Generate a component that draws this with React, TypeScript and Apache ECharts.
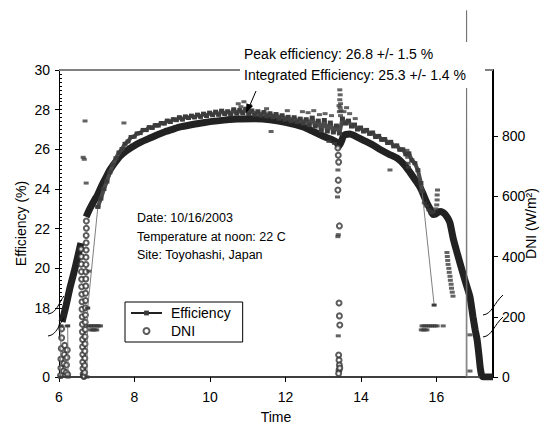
import React, { useEffect, useRef } from 'react';
import * as echarts from 'echarts';

const FONT = "'Liberation Sans', Arial, sans-serif";

const timeTicks = [6, 8, 10, 12, 14, 16];
const effTicks = [0, 18, 20, 22, 24, 26, 28, 30];
const dniTicks = [0, 200, 400, 600, 800];

// Efficiency (%) : thin trace parts (morning, rise, fall)
const effMorning: [number, number][] = [
  [6.04, 0], [6.05, 17.1], [6.23, 17.1], [6.24, 0],
];
const effRise: [number, number][] = [
  [6.74, 0], [6.76, 18.0], [7.03, 23.1],
];
const effFall: [number, number][] = [
  [15.62, 23.9], [15.94, 18.15],
];
// Efficiency (%) : sunset artefact (off-scale reading)
const effDusk: [number, number][] = [
  [16.79, 0], [16.8, 33.0], [16.81, 0], [17.15, 0],
];
// Efficiency (%) : dense daytime readings
const effDay: [number, number][] = [
  [7.03, 23.1], [7.11, 23.52], [7.19, 24.0], [7.27, 24.38], [7.35, 24.85], [7.43, 25.22],
  [7.51, 25.55], [7.59, 25.84], [7.67, 26.02], [7.75, 26.28], [7.83, 26.4], [7.91, 26.62],
  [7.99, 26.64], [8.07, 26.8], [8.15, 26.82], [8.23, 26.98], [8.31, 26.97], [8.39, 27.12],
  [8.47, 27.08], [8.55, 27.22], [8.63, 27.2], [8.71, 27.33], [8.79, 27.3], [8.87, 27.45],
  [8.95, 27.38], [9.03, 27.52], [9.11, 27.47], [9.19, 27.62], [9.27, 27.5], [9.35, 27.66],
  [9.43, 27.58], [9.51, 27.7], [9.59, 27.61], [9.67, 27.75], [9.75, 27.64], [9.83, 27.8],
  [9.91, 27.68], [9.99, 27.85], [10.07, 27.72], [10.15, 27.9], [10.23, 27.74], [10.31, 27.95],
  [10.39, 27.78], [10.47, 27.92], [10.55, 27.76], [10.63, 28.02], [10.71, 27.8], [10.79, 27.98],
  [10.87, 27.82], [10.95, 28.05], [11.03, 27.78], [11.11, 27.96], [11.19, 27.74], [11.27, 27.92],
  [11.35, 27.7], [11.43, 27.88], [11.51, 27.66], [11.59, 27.82], [11.67, 27.62], [11.75, 27.78],
  [11.83, 27.55], [11.91, 27.72], [11.99, 27.5], [12.07, 27.64], [12.15, 27.42], [12.23, 27.62],
  [12.31, 27.38], [12.39, 27.55], [12.47, 27.3], [12.55, 27.52], [12.63, 27.22], [12.71, 27.6],
  [12.79, 27.15], [12.87, 27.45], [12.95, 26.95], [13.03, 27.48], [13.11, 26.9], [13.19, 27.35],
  [13.27, 26.85], [13.35, 27.2], [13.43, 26.8], [13.51, 27.55], [13.59, 27.3], [13.67, 27.45],
  [13.75, 27.15], [13.83, 27.25], [13.91, 27.0], [13.99, 27.1], [14.07, 26.9], [14.15, 26.98],
  [14.23, 26.78], [14.31, 26.85], [14.39, 26.62], [14.47, 26.68], [14.55, 26.48], [14.63, 26.52],
  [14.71, 26.32], [14.79, 26.38], [14.87, 26.15], [14.95, 26.2], [15.03, 25.98], [15.11, 26.0],
  [15.19, 25.75], [15.27, 25.8], [15.35, 25.45], [15.43, 25.3], [15.51, 24.95], [15.59, 24.3],
  [15.62, 23.9],
];
// Efficiency : isolated readings
const effStray: [number, number][] = [
  [6.69, 27.43], [6.64, 25.6], [6.67, 25.5], [6.72, 24.3], [6.79, 19.86], [7.72, 27.33],
  [6.78, 17.1], [6.82, 17.1], [6.86, 17.1], [6.9, 17.1], [6.94, 17.1], [6.98, 17.1], [7.02, 17.1], [7.06, 17.1], [7.1, 17.1],
  [6.84, 16.9], [6.88, 16.9], [6.92, 16.9], [6.96, 16.9], [7.0, 16.9],
  [10.75, 28.3], [10.82, 28.15], [10.9, 28.4], [11.05, 28.2], [11.5, 28.05], [11.62, 26.9], [12.05, 27.95],
  [12.45, 27.9], [12.6, 27.85], [12.75, 27.95], [12.9, 27.75], [13.05, 27.8], [13.15, 26.4], [13.22, 27.7],
  [13.3, 26.3], [13.55, 27.9], [13.62, 28.1], [13.7, 27.8], [13.85, 27.55],
  [13.44, 29.0], [13.45, 28.75], [13.44, 28.5], [13.46, 28.3], [13.45, 28.1], [13.43, 27.9], [13.46, 27.7], [13.47, 27.95], [13.42, 28.2],
  [13.39, 24.96], [13.38, 23.6], [13.39, 21.6], [13.4, 21.7], [13.4, 16.6],
  [14.77, 24.96],
  [15.22, 25.95], [15.24, 25.6], [15.25, 25.3], [15.26, 25.1],
  [15.68, 23.3], [15.74, 23.15], [15.8, 22.95], [15.86, 22.8], [15.92, 22.85], [15.98, 23.0], [16.01, 23.2], [16.02, 23.45], [16.02, 23.7], [16.03, 23.95],
  [15.62, 17.1], [15.67, 17.1], [15.72, 17.1], [15.77, 17.1], [15.82, 17.1], [15.87, 17.1], [15.92, 17.1], [15.97, 17.1], [16.02, 17.1], [16.18, 17.1],
  [15.6, 16.9], [15.65, 16.9], [15.7, 16.9], [15.75, 16.9],
  [16.28, 20.8], [16.29, 20.6], [16.3, 20.4], [16.31, 20.2], [16.33, 20.0], [16.34, 19.8], [16.36, 19.6], [16.37, 19.4], [16.39, 19.2], [16.4, 19.0], [16.42, 18.8], [16.44, 18.6],
  [16.89, 16.65], [16.89, 0.3],
];

// DNI (W/m2): dense one-minute readings
const dniMorning: [number, number][] = [
  [6.08, 183], [6.19, 239], [6.29, 296], [6.4, 349], [6.5, 402], [6.58, 445],
];
const dniDay: [number, number][] = [
  [6.72, 532], [6.8, 555], [6.87, 572], [6.95, 590], [7.01, 602], [7.09, 624], [7.17, 645],
  [7.26, 667], [7.35, 688], [7.48, 712], [7.62, 734], [7.78, 751], [7.96, 766], [8.18, 781],
  [8.41, 794], [8.61, 805], [8.81, 815], [9.01, 823], [9.21, 831], [9.5, 838], [9.82, 845],
  [10.2, 851], [10.72, 857], [11.2, 858], [11.59, 855], [12.0, 846], [12.47, 831], [12.7, 818],
  [12.92, 805], [13.1, 795], [13.26, 787], [13.35, 780], [13.42, 768], [13.48, 782], [13.55, 803],
  [13.71, 807], [13.9, 797], [14.06, 787], [14.3, 772], [14.51, 756], [14.75, 740], [14.96, 727],
  [15.15, 705], [15.3, 680], [15.45, 653], [15.57, 630], [15.67, 602], [15.75, 578], [15.84, 557],
  [15.91, 540], [15.98, 541], [16.05, 548], [16.1, 550], [16.17, 547], [16.23, 541], [16.3, 528],
  [16.36, 512], [16.45, 458], [16.55, 412], [16.7, 346], [16.8, 304], [16.89, 266], [16.97, 200],
  [17.03, 155], [17.08, 123], [17.13, 70], [17.16, 33], [17.2, 5], [17.25, 0], [17.5, 0],
];
// DNI : sparse readings (fast changes)
const dniSparse: [number, number][] = [
  [6.04, 5], [6.05, 30], [6.05, 60], [6.06, 95], [6.07, 130], [6.07, 160], [6.12, 20], [6.13, 45],
  [6.14, 75], [6.15, 105], [6.19, 15], [6.2, 40], [6.21, 65], [6.22, 90], [6.23, 8],
  [6.585, 425], [6.59, 400], [6.59, 375], [6.595, 350], [6.6, 325], [6.6, 300], [6.605, 275], [6.61, 250],
  [6.61, 225], [6.615, 200], [6.62, 175], [6.62, 150], [6.625, 125], [6.625, 100], [6.63, 75], [6.63, 50],
  [6.635, 28], [6.64, 10], [6.65, 3], [6.67, 3],
  [6.68, 15], [6.68, 38], [6.685, 62], [6.685, 86], [6.69, 110], [6.69, 134], [6.695, 158], [6.695, 182],
  [6.7, 206], [6.7, 230], [6.705, 254], [6.705, 278], [6.71, 302], [6.71, 326], [6.71, 350], [6.715, 374],
  [6.715, 398], [6.72, 422], [6.72, 446], [6.72, 470], [6.725, 494], [6.725, 518],
  [13.39, 761], [13.4, 737], [13.41, 714], [13.4, 654], [13.39, 621], [13.43, 502], [13.42, 246],
  [13.43, 203], [13.44, 173], [13.41, 73], [13.42, 56], [13.43, 40], [13.42, 23], [13.44, 30], [13.41, 12],
];

export default function App() {
  const ref = useRef<HTMLDivElement>(null);
  useEffect(() => {
    if (!ref.current) return;
    const chart = echarts.init(ref.current, undefined, { renderer: 'svg' });
    const effThin = [...effMorning, [6.5, null], ...effRise, [10, null], ...effFall];
    const axisText = { fontSize: 14, color: '#000', fontFamily: FONT };
    const arrowTip = [246, 113];
    const bend = (x1: number, y1: number, x2: number, y2: number) => ({
      type: 'bezierCurve', z: 51,
      shape: { x1, y1, cpx1: x1 + 9, cpy1: y1 - 1, cpx2: x1 + 11, cpy2: y1 - 12, x2, y2 },
      style: { stroke: '#000', lineWidth: 1, fill: 'none' },
    });
    const note = (x: number, y: number, text: string, fontSize: number) => ({
      type: 'text', z: 51, x, y,
      style: { text, fontSize, fontFamily: FONT, fill: '#000', verticalAlign: 'middle' },
    });
    chart.setOption({
      animation: false,
      textStyle: { fontFamily: FONT },
      grid: [
        { left: 59, right: 48, top: 70, bottom: 47, outerBoundsMode: 'none' },
        { left: 59, right: 48, top: 70, bottom: 116, outerBoundsMode: 'none' },
      ],
      legend: {
        data: ['Efficiency', 'DNI'],
        orient: 'vertical',
        left: 125,
        top: 302,
        backgroundColor: '#fff',
        borderColor: '#000',
        borderWidth: 1,
        borderRadius: 0,
        padding: [4, 12, 4, 5],
        itemGap: 4,
        itemWidth: 31,
        itemHeight: 6,
        selectedMode: false,
        lineStyle: { width: 2, color: '#222' },
        textStyle: { fontSize: 14, color: '#000', fontFamily: FONT, padding: [0, 0, 0, 4] },
        z: 20,
      },
      xAxis: [
        {
          type: 'value', min: 6, max: 17.5, interval: 2,
          axisLine: { show: true, onZero: false, lineStyle: { color: '#000', width: 1.5 } },
          axisTick: { show: true, length: 5, customValues: timeTicks, lineStyle: { color: '#000' } },
          axisLabel: { ...axisText, margin: 13, customValues: timeTicks },
          splitLine: { show: false },
          name: 'Time', nameLocation: 'middle', nameGap: 33, nameTextStyle: axisText,
        },
        { type: 'value', gridIndex: 1, min: 6, max: 17.5, show: false },
      ],
      yAxis: [
        {
          type: 'value', position: 'left', min: 0, max: 30, interval: 2,
          breaks: [{ start: 1, end: 16.5, gap: '6.3%' }],
          breakArea: { show: false },
          axisLine: { show: true, lineStyle: { color: '#000', width: 1 } },
          axisTick: { show: true, length: 4, customValues: effTicks, lineStyle: { color: '#000' } },
          axisLabel: { ...axisText, margin: 9, customValues: effTicks },
          splitLine: { show: false },
          name: 'Efficiency (%)', nameLocation: 'middle', nameRotate: 90, nameGap: 31,
          nameMoveOverlap: false,
          nameTextStyle: axisText,
        },
        {
          type: 'value', gridIndex: 1, position: 'left', min: 18, max: 30, interval: 2,
          axisLine: { show: false },
          axisTick: { show: true, inside: true, length: 3, lineStyle: { color: '#000' } },
          minorTick: { show: true, splitNumber: 10, length: 3, lineStyle: { color: '#000' } },
          axisLabel: { show: false },
          splitLine: { show: false },
        },
        {
          type: 'value', position: 'right', min: 0, max: 1020, interval: 200,
          axisLine: { show: true, lineStyle: { color: '#000', width: 2 } },
          axisTick: { show: true, length: 5, customValues: dniTicks, lineStyle: { color: '#000' } },
          axisLabel: { ...axisText, margin: 9, customValues: dniTicks },
          splitLine: { show: false },
          name: 'DNI (W/m²)', nameLocation: 'middle', nameRotate: 90, nameGap: 22,
          nameMoveOverlap: false,
          nameTextStyle: { ...axisText, backgroundColor: '#fff', padding: [9, 2, 9, 2] },
        },
      ],
      series: [
        {
          name: 'Efficiency', type: 'line', yAxisIndex: 0, data: effThin,
          connectNulls: false, clip: false, z: 4,
          symbol: 'rect', symbolSize: [5, 3], showSymbol: true,
          itemStyle: { color: '#3c3c3c' },
          lineStyle: { width: 0.9, color: '#707070' },
        },
        {
          name: 'Efficiency', type: 'line', yAxisIndex: 0, data: effDusk,
          clip: false, z: 4, showSymbol: false,
          lineStyle: { width: 0.9, color: '#707070' },
        },
        {
          name: 'Efficiency', type: 'line', yAxisIndex: 0, data: effDay, z: 4,
          symbol: 'rect', symbolSize: [5, 4], showSymbol: true,
          itemStyle: { color: '#3c3c3c' },
          lineStyle: { width: 4, color: '#4a4a4a' },
        },
        {
          name: 'Efficiency', type: 'scatter', yAxisIndex: 0, data: effStray, z: 4,
          symbol: 'rect', symbolSize: [5, 3], itemStyle: { color: '#3c3c3c' },
        },
        {
          name: 'DNI', type: 'scatter', yAxisIndex: 2, data: dniSparse, z: 3,
          symbol: 'emptyCircle', symbolSize: 5,
          itemStyle: { color: '#333', borderColor: '#333', borderWidth: 1 },
        },
        {
          name: 'DNI', type: 'line', yAxisIndex: 2, data: dniMorning, z: 3,
          showSymbol: false, smooth: 0.2, lineStyle: { width: 7, color: '#222' },
        },
        {
          name: 'DNI', type: 'line', yAxisIndex: 2, data: dniDay, z: 3,
          showSymbol: false, smooth: 0.2, lineStyle: { width: 7, color: '#222' },
        },
      ],
      graphic: [
        { type: 'line', z: 1, shape: { x1: 59, y1: 70, x2: 493, y2: 70 }, style: { stroke: '#808080', lineWidth: 2 } },
        { type: 'rect', z: 50, shape: { x: 240, y: 42, width: 245, height: 46 }, style: { fill: '#fff' } },
        note(244, 54, 'Peak efficiency: 26.8 +/- 1.5 %', 14),
        note(244, 75, 'Integrated Efficiency: 25.3 +/- 1.4 %', 14),
        { type: 'line', z: 51, shape: { x1: 256, y1: 91, x2: 250, y2: 105 }, style: { stroke: '#000', lineWidth: 1 } },
        { type: 'polygon', z: 51, shape: { points: [arrowTip, [253, 106], [246.4, 103.3]] }, style: { fill: '#000' } },
        note(137, 218, 'Date: 10/16/2003', 12.5),
        note(137, 237, 'Temperature at noon: 22 C', 12.5),
        note(137, 255, 'Site: Toyohashi, Japan', 12.5),
        bend(48, 314, 64, 296),
        bend(48, 336, 64, 318),
        bend(483, 315, 503, 295),
        bend(483, 337, 503, 317),
      ],
    });
    return () => chart.dispose();
  }, []);
  return <div ref={ref} style={{ width: 541, height: 424, position: 'absolute', left: 0, top: 0 }} />;
}
